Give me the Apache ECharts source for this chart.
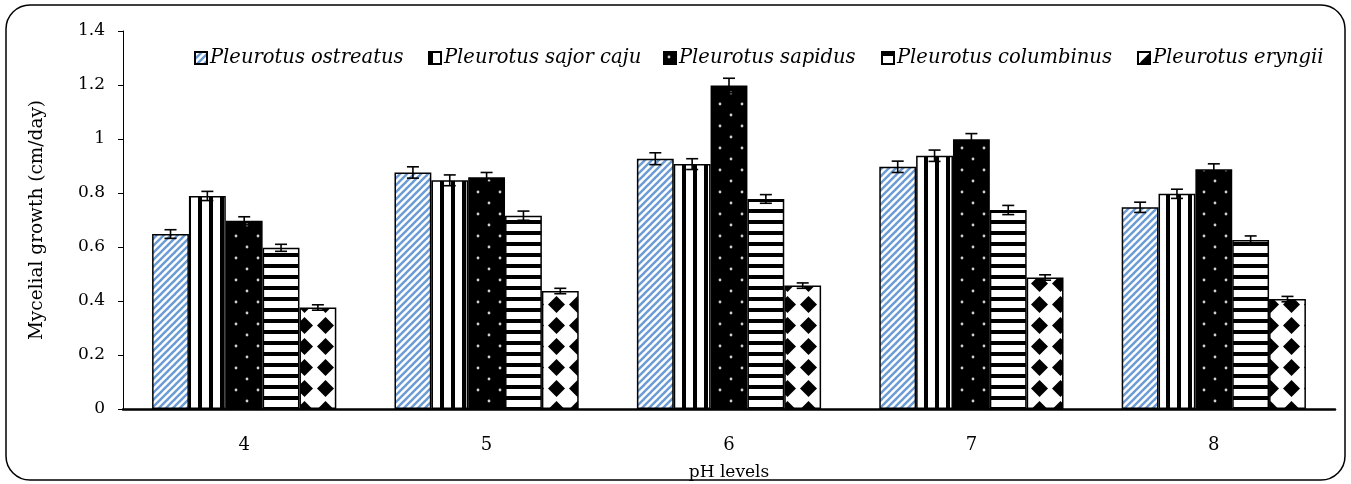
<!DOCTYPE html>
<html>
<head>
<meta charset="utf-8">
<script src="https://cdn.jsdelivr.net/npm/echarts@6/dist/echarts.min.js"></script>
<style>
    html, body { margin: 0; padding: 0; background: #fff; }
    #myChart { width: 1351px; height: 484px; }
</style>
</head>
<body>
<div id="myChart"></div>
<script>
    // data
    const phLevels = ['4', '5', '6', '7', '8'];
    const speciesNames = ['Pleurotus ostreatus', 'Pleurotus sajor caju', 'Pleurotus sapidus', 'Pleurotus columbinus', 'Pleurotus eryngii'];
    const ostreatus = [0.648, 0.876, 0.927, 0.897, 0.747];
    const sajorCaju = [0.789, 0.847, 0.907, 0.938, 0.797];
    const sapidus = [0.697, 0.858, 1.198, 0.999, 0.888];
    const columbinus = [0.597, 0.716, 0.778, 0.737, 0.626];
    const eryngii = [0.376, 0.437, 0.457, 0.487, 0.407];
    const ostreatusErr = [0.016, 0.021, 0.022, 0.021, 0.019];
    const sajorCajuErr = [0.017, 0.020, 0.020, 0.021, 0.017];
    const sapidusErr = [0.015, 0.018, 0.027, 0.021, 0.020];
    const columbinusErr = [0.013, 0.017, 0.016, 0.017, 0.015];
    const eryngiiErr = [0.010, 0.010, 0.010, 0.010, 0.010];
    const yTicks = ['0', '0.2', '0.4', '0.6', '0.8', '1', '1.2', '1.4'];

    const FONT = 'DejaVu Serif';
    const GAP = 0.24;
    const legendLeft = [194, 428, 663, 881, 1137];

    function tile(w, h, draw) {
        const c = document.createElement('canvas');
        c.width = w; c.height = h;
        draw(c.getContext('2d'), w, h);
        return c;
    }
    const diagTile = tile(7, 7, (ctx, w, h) => {
        ctx.fillStyle = '#fff'; ctx.fillRect(0, 0, w, h);
        ctx.strokeStyle = '#6b9bd4'; ctx.lineWidth = 2.4;
        [-w, 0, w].forEach(o => {
            ctx.beginPath(); ctx.moveTo(o - 1, h + 1); ctx.lineTo(o + w + 1, -1); ctx.stroke();
        });
    });
    const vTile = tile(11, 4, (ctx, w, h) => {
        ctx.fillStyle = '#fff'; ctx.fillRect(0, 0, w, h);
        ctx.fillStyle = '#000'; ctx.fillRect(0, 0, 4, h);
    });
    const dotTile = tile(22, 22, (ctx, w, h) => {
        ctx.fillStyle = '#000'; ctx.fillRect(0, 0, w, h);
        ctx.fillStyle = '#d0d0d0';
        [[5, 5], [16, 16]].forEach(p => {
            ctx.beginPath(); ctx.arc(p[0], p[1], 1.4, 0, Math.PI * 2); ctx.fill();
        });
    });
    const hTile = tile(4, 11, (ctx, w, h) => {
        ctx.fillStyle = '#fff'; ctx.fillRect(0, 0, w, h);
        ctx.fillStyle = '#000'; ctx.fillRect(0, 0, w, 4);
    });
    const diaTile = tile(21, 21, (ctx, w, h) => {
        ctx.fillStyle = '#fff'; ctx.fillRect(0, 0, w, h);
        ctx.fillStyle = '#000';
        ctx.beginPath();
        ctx.moveTo(10.5, 2); ctx.lineTo(19, 10.5); ctx.lineTo(10.5, 19); ctx.lineTo(2, 10.5);
        ctx.closePath(); ctx.fill();
    });

    const values = [ostreatus, sajorCaju, sapidus, columbinus, eryngii];
    const errors = [ostreatusErr, sajorCajuErr, sapidusErr, columbinusErr, eryngiiErr];
    const tiles = [diagTile, vTile, dotTile, hTile, diaTile];

    function errRender(idx) {
        return function (params, api) {
            const c = api.value(0), v = api.value(1), e = api.value(2);
            const catW = api.size([1, 0])[0];
            const band = catW * (1 - GAP);
            const bw = band / 5;
            const x = api.coord([c, v])[0] - band / 2 + bw * (idx + 0.5);
            const y1 = api.coord([c, v + e])[1];
            const y2 = api.coord([c, v - e])[1];
            const st = { stroke: '#000', lineWidth: 1.6 };
            return {
                type: 'group',
                children: [
                    { type: 'line', shape: { x1: x, y1: y1, x2: x, y2: y2 }, style: st },
                    { type: 'line', shape: { x1: x - 6, y1: y1, x2: x + 6, y2: y1 }, style: st },
                    { type: 'line', shape: { x1: x - 6, y1: y2, x2: x + 6, y2: y2 }, style: st }
                ]
            };
        };
    }

    const series = [];
    speciesNames.forEach((name, i) => {
        series.push({
            name: name,
            type: 'bar',
            data: values[i],
            barGap: '0%',
            barCategoryGap: (GAP * 100) + '%',
            itemStyle: {
                color: { image: tiles[i], repeat: 'repeat' },
                borderColor: '#000',
                borderWidth: 1.5
            },
            emphasis: { disabled: true }
        });
    });
    speciesNames.forEach((name, i) => {
        series.push({
            name: 'err' + i,
            type: 'custom',
            renderItem: errRender(i),
            data: phLevels.map((p, j) => [j, values[i][j], errors[i][j]]),
            encode: { x: 0, y: 1 },
            z: 5,
            silent: true
        });
    });

    // one legend per entry so each sits where it does in the picture
    const legends = speciesNames.map((name, i) => ({
        data: [name],
        left: legendLeft[i], top: 48,
        padding: 0,
        itemWidth: 12, itemHeight: 12,
        icon: 'rect',
        selectedMode: false,
        textStyle: { fontFamily: FONT, fontStyle: 'italic', fontSize: 19.5, color: '#000', padding: [0, 0, 0, -2] }
    }));

    const myChart = echarts.init(document.getElementById('myChart'));
    const option = {
        animation: false,
        backgroundColor: '#fff',
        graphic: [{
            type: 'rect',
            shape: { x: 6, y: 5, width: 1339, height: 475, r: 24 },
            style: { fill: 'none', stroke: '#000', lineWidth: 1.5 },
            silent: true
        }],
        legend: legends,
        grid: { left: 123, right: 16, top: 31, bottom: 75, containLabel: false, outerBoundsMode: 'none' },
        xAxis: {
            type: 'category',
            data: phLevels,
            name: 'pH levels',
            nameLocation: 'middle',
            nameGap: 55,
            nameTextStyle: { fontFamily: FONT, fontSize: 17, color: '#000' },
            axisLine: { lineStyle: { color: '#000', width: 2.5 } },
            axisTick: { length: 6, lineStyle: { color: '#000', width: 2 } },
            axisLabel: { fontFamily: FONT, fontSize: 18, color: '#000', margin: 27 }
        },
        yAxis: {
            type: 'value',
            min: 0, max: 1.4, interval: 0.2,
            name: 'Mycelial growth (cm/day)',
            nameLocation: 'middle',
            nameGap: 76,
            nameTextStyle: { fontFamily: FONT, fontSize: 18.5, color: '#000' },
            axisLine: { show: true, lineStyle: { color: '#000', width: 1 } },
            axisTick: { show: true, length: 5, lineStyle: { color: '#000' } },
            splitLine: { show: false },
            axisLabel: {
                fontFamily: FONT, fontSize: 17, color: '#000', margin: 18,
                formatter: (v) => yTicks[Math.round(v / 0.2)]
            }
        },
        series: series
    };
    myChart.setOption(option);
</script>
</body>
</html>
